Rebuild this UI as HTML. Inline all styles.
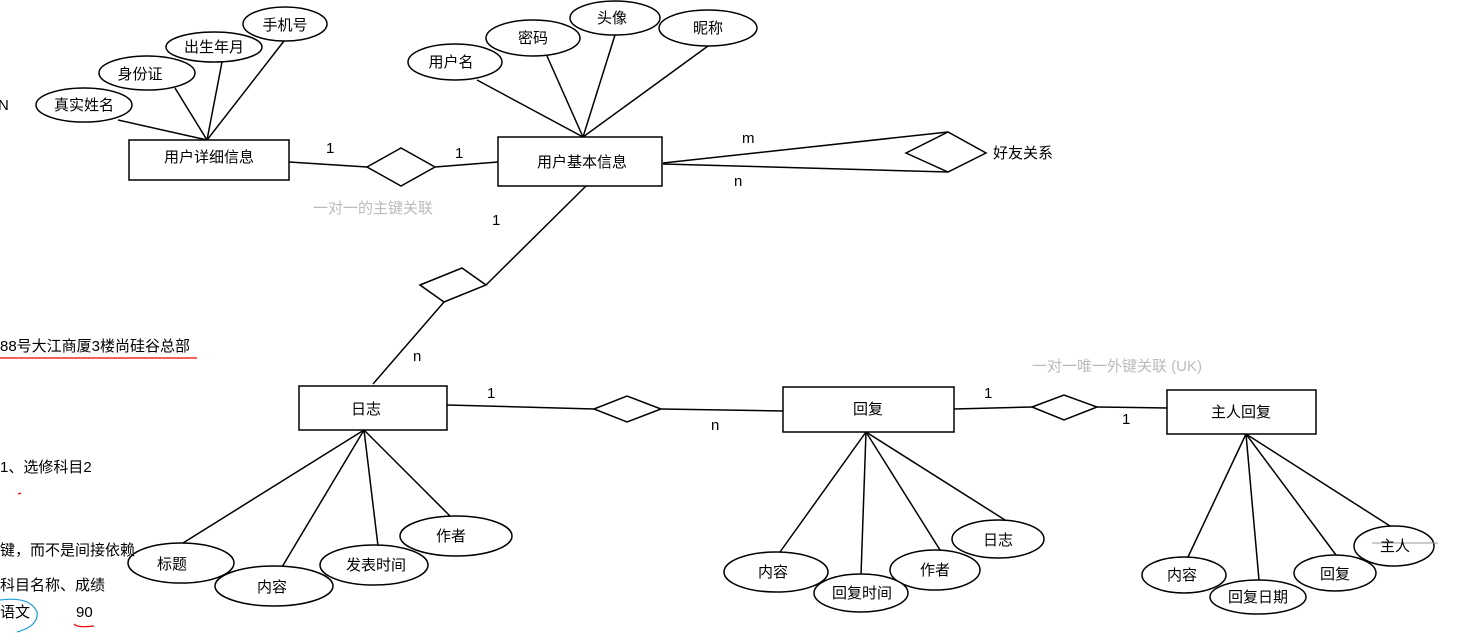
<!DOCTYPE html>
<html><head><meta charset="utf-8"><style>
html,body{margin:0;padding:0;background:#fff;width:1476px;height:635px;overflow:hidden}
svg{display:block}
text{font-family:"Liberation Sans","Noto Sans CJK SC",sans-serif;font-size:15px;fill:#000}
.g{fill:#bbb}
</style></head><body>
<svg width="1476" height="635" viewBox="0 0 1476 635" xmlns="http://www.w3.org/2000/svg">
<g stroke="#000" stroke-width="1.5" fill="none">
<!-- 用户详细信息 lines -->
<line x1="207" y1="140" x2="118" y2="120"/>
<line x1="207" y1="140" x2="175" y2="88"/>
<line x1="207" y1="140" x2="222" y2="62"/>
<line x1="207" y1="140" x2="284" y2="41"/>
<!-- 用户基本信息 lines -->
<line x1="583" y1="137" x2="477" y2="80"/>
<line x1="583" y1="137" x2="547" y2="56"/>
<line x1="583" y1="137" x2="615" y2="35"/>
<line x1="583" y1="137" x2="708" y2="46"/>
<!-- relations -->
<polyline points="289,162 367,167"/>
<polygon points="367,167 401,148 435,167 401,186"/>
<polyline points="435,167 498,162"/>
<polyline points="663,163 948,132"/>
<polyline points="663,164 948,172"/>
<polygon points="906,153 948,132 986,153 948,172"/>
<line x1="586" y1="186" x2="486" y2="285"/>
<polygon points="420,285 462,268 486,285 444,302"/>
<line x1="444" y1="302" x2="373" y2="384"/>
<polyline points="447,405 594,409"/>
<polygon points="594,409 627,396 661,409 627,422"/>
<polyline points="661,409 783,411"/>
<polyline points="954,409 1032,407"/>
<polygon points="1032,407 1064,395 1097,407 1064,420"/>
<polyline points="1097,407 1167,408"/>
<!-- 日志 lines -->
<line x1="364" y1="430" x2="183" y2="543"/>
<line x1="364" y1="430" x2="282" y2="567"/>
<line x1="364" y1="430" x2="378" y2="546"/>
<line x1="364" y1="430" x2="450" y2="516"/>
<!-- 回复 lines -->
<line x1="866" y1="432" x2="780" y2="552"/>
<line x1="866" y1="432" x2="861" y2="575"/>
<line x1="866" y1="432" x2="940" y2="550"/>
<line x1="866" y1="432" x2="1005" y2="520"/>
<!-- 主人回复 lines -->
<line x1="1246" y1="434" x2="1188" y2="557"/>
<line x1="1246" y1="434" x2="1259" y2="580"/>
<line x1="1246" y1="434" x2="1336" y2="555"/>
<line x1="1246" y1="434" x2="1390" y2="526"/>
</g>
<g stroke="#000" stroke-width="1.5" fill="#fff">
<ellipse cx="84" cy="105" rx="48" ry="17"/>
<ellipse cx="147" cy="73" rx="48" ry="17"/>
<ellipse cx="214" cy="47" rx="48" ry="15"/>
<ellipse cx="285" cy="24" rx="42" ry="17"/>
<ellipse cx="455" cy="62" rx="47" ry="18"/>
<ellipse cx="533" cy="38" rx="47" ry="18"/>
<ellipse cx="615" cy="18" rx="45" ry="17"/>
<ellipse cx="708" cy="28" rx="49" ry="18"/>
<rect x="129" y="140" width="160" height="40"/>
<rect x="498" y="137" width="164" height="49"/>
<rect x="299" y="386" width="148" height="44"/>
<rect x="783" y="387" width="171" height="45"/>
<rect x="1167" y="390" width="149" height="44"/>
<ellipse cx="456" cy="536" rx="56" ry="20"/>
<ellipse cx="181" cy="563" rx="53" ry="20"/>
<ellipse cx="374" cy="565" rx="54" ry="20"/>
<ellipse cx="274" cy="586" rx="59" ry="20"/>
<ellipse cx="998" cy="539" rx="46" ry="19"/>
<ellipse cx="935" cy="570" rx="45" ry="20"/>
<ellipse cx="776" cy="572" rx="52" ry="20"/>
<ellipse cx="861" cy="593" rx="47" ry="19"/>
<ellipse cx="1394" cy="546" rx="40" ry="20"/>
<ellipse cx="1335" cy="573" rx="41" ry="18"/>
<ellipse cx="1184" cy="575" rx="42" ry="18"/>
<ellipse cx="1258" cy="597" rx="48" ry="17"/>
</g>
<line x1="1372" y1="543" x2="1438" y2="543" stroke="#999" stroke-width="1"/>
<g text-anchor="middle">
<text x="84" y="110">真实姓名</text>
<text x="140" y="79">身份证</text>
<text x="214" y="52">出生年月</text>
<text x="285" y="30">手机号</text>
<text x="451" y="67">用户名</text>
<text x="533" y="43">密码</text>
<text x="612" y="23">头像</text>
<text x="708" y="33">昵称</text>
<text x="209" y="162">用户详细信息</text>
<text x="582" y="167">用户基本信息</text>
<text x="366" y="414">日志</text>
<text x="868" y="414">回复</text>
<text x="1241" y="417">主人回复</text>
<text x="172" y="569">标题</text>
<text x="272" y="592">内容</text>
<text x="376" y="570">发表时间</text>
<text x="451" y="541">作者</text>
<text x="773" y="577">内容</text>
<text x="862" y="598">回复时间</text>
<text x="935" y="575">作者</text>
<text x="998" y="545">日志</text>
<text x="1182" y="580">内容</text>
<text x="1258" y="602">回复日期</text>
<text x="1335" y="579">回复</text>
<text x="1395" y="551">主人</text>
</g>
<text x="326" y="153">1</text>
<text x="455" y="158">1</text>
<text x="742" y="143">m</text>
<text x="734" y="186">n</text>
<text x="993" y="158">好友关系</text>
<text x="492" y="225">1</text>
<text x="413" y="361">n</text>
<text x="487" y="398">1</text>
<text x="711" y="430">n</text>
<text x="984" y="398">1</text>
<text x="1122" y="424">1</text>
<text class="g" x="313" y="213">一对一的主键关联</text>
<text class="g" x="1032" y="371">一对一唯一外键关联 (UK)</text>
<text x="-2" y="110">N</text>
<text x="0" y="351">88号大江商厦3楼尚硅谷总部</text>
<line x1="0" y1="358" x2="197" y2="358" stroke="#e00" stroke-width="1.2"/>
<text x="0" y="472">1、选修科目2</text>
<path d="M18 494 l3 -1" stroke="#e00" stroke-width="1.2"/>
<text x="0" y="555">键，而不是间接依赖</text>
<text x="0" y="590">科目名称、成绩</text>
<text x="0" y="617">语文</text>
<text x="76" y="617">90</text>
<path d="M74 624 q3 4 20 2" stroke="#e00" stroke-width="1.2" fill="none"/>
<path d="M0 600 q30 -4 37 12 q2 14 -20 20" stroke="#1a9fd8" stroke-width="1.2" fill="none"/>
</svg>
</body></html>
